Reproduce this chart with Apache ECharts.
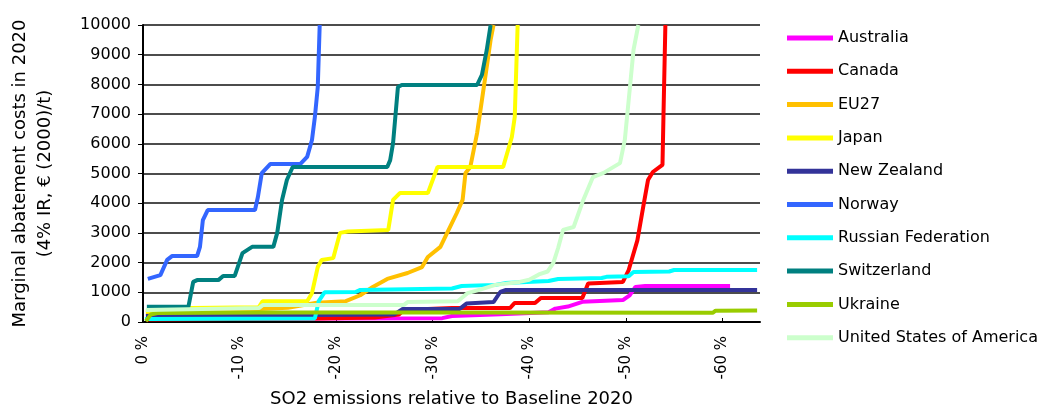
<!DOCTYPE html>
<html>
<head>
<meta charset="utf-8">
<script src="https://cdn.jsdelivr.net/npm/echarts@6/dist/echarts.min.js"></script>
<style>
html,body{margin:0;padding:0;background:#fff;}
#chart{width:1041px;height:407px;}
</style>
</head>
<body>
<div id="chart"></div>
<script>
// x = SO2 reduction relative to Baseline 2020 (%, shown as negative), y = marginal cost (€/t)
const seriesNames = ["Australia","Canada","EU27","Japan","New Zealand","Norway","Russian Federation","Switzerland","Ukraine","United States of America"];
const seriesColors = ["#FF00FF","#FF0000","#FFC000","#FFFF00","#333399","#3366FF","#00FFFF","#008080","#99CC00","#CCFFCC"];
const xTickValues = [0,10,20,30,40,50,60];
const yTickValues = [0,1000,2000,3000,4000,5000,6000,7000,8000,9000,10000];

const australia = [[0.3,100],[10,110],[20,120],[31,130],[32,200],[37,260],[42,330],[42.7,450],[44,520],[45.5,680],[49.7,740],[50.4,900],[51,1180],[52,1210],[60.8,1210]];
const canada = [[0.3,80],[18,120],[24,150],[26.5,250],[27,400],[32,470],[38,470],[38.5,640],[40.6,640],[41.2,810],[45.5,810],[46.1,1300],[49.7,1350],[50.3,1750],[51.2,2750],[51.8,3870],[52.3,4780],[52.8,5050],[53.8,5290],[53.9,6900],[54.1,10000]];
const eu27 = [[0.3,300],[8,380],[15,480],[18,650],[21,700],[22.5,900],[23.8,1180],[25.3,1450],[27.4,1650],[28.9,1850],[29.5,2190],[30.8,2530],[31.5,3000],[32.5,3670],[33.1,4110],[33.4,5020],[33.9,5220],[34.6,6360],[35.1,7470],[35.6,8590],[36,9500],[36.3,10000]];
const japan = [[0.3,350],[5,470],[12,500],[12.4,700],[17,700],[17.5,970],[18.1,1850],[18.5,2090],[19.7,2150],[20.4,3000],[21.2,3050],[25.4,3100],[25.9,4110],[26.6,4340],[29.5,4340],[30.5,5220],[37.3,5220],[38.2,6230],[38.5,6900],[38.8,10000]];
const newZealand = [[0.3,200],[26,250],[26.9,440],[32.8,440],[33.5,620],[36.3,670],[37,1010],[37.6,1080],[63.6,1080]];
const norway = [[0.5,1450],[1.8,1580],[2.5,2090],[3.0,2220],[5.6,2220],[5.9,2530],[6.2,3430],[6.7,3770],[11.6,3770],[11.9,4210],[12.3,5010],[13.2,5320],[16.3,5320],[17.0,5560],[17.5,6130],[17.8,6900],[18.1,7910],[18.3,10000]];
const russia = [[0.2,100],[17.8,120],[18.2,700],[18.8,1000],[22,1010],[22.5,1080],[32,1130],[33,1210],[36.5,1250],[37.5,1310],[42,1380],[43,1450],[47.5,1480],[48,1520],[50.3,1540],[50.8,1680],[54.5,1700],[55,1750],[63.6,1750]];
const switzerland = [[0.4,510],[4.7,510],[5.2,1350],[5.6,1410],[7.8,1410],[8.3,1550],[9.5,1550],[10.3,2320],[11.3,2530],[13.5,2530],[13.9,3000],[14.4,4110],[14.9,4780],[15.5,5220],[25.3,5220],[25.6,5450],[25.9,6030],[26.4,7910],[26.8,7980],[34.6,7980],[35.1,8320],[35.6,9160],[36.0,10000]];
const ukraine = [[0.3,30],[0.8,250],[1.5,300],[12,320],[30,320],[59,310],[59.3,380],[63.6,390]];
const usa = [[0.3,400],[12,470],[12.4,570],[27,570],[27.4,670],[32.6,700],[33.6,970],[35,1100],[36.5,1250],[39,1350],[40,1420],[41,1600],[41.9,1700],[42.5,1990],[43,2500],[43.5,3100],[44.6,3200],[45.6,4110],[46.6,4880],[47.7,5020],[49.4,5350],[49.9,6130],[50.3,7470],[50.8,9160],[51.3,10000]];

const allData = [australia,canada,eu27,japan,newZealand,norway,russia,switzerland,ukraine,usa];
const FONT = "DejaVu Sans, Liberation Sans, sans-serif";

const chart = echarts.init(document.getElementById('chart'), null, {renderer:'canvas'});
chart.setOption({
  animation:false,
  backgroundColor:'#fff',
  color: seriesColors,
  grid:{left:143,right:281,top:25,bottom:85,containLabel:false,outerBoundsMode:'none'},
  legend:{
    orient:'vertical', left:787, top:29, padding:0,
    icon:'rect', itemWidth:46, itemHeight:5, itemGap:15.3,
    textStyle:{fontFamily:FONT,fontSize:16,color:'#000',lineHeight:18},
    data: seriesNames
  },
  xAxis:{
    type:'value', min:0, max:63.9,
    name:'SO2 emissions relative to Baseline 2020',
    nameLocation:'middle', nameGap:68,
    nameTextStyle:{fontFamily:FONT,fontSize:18,color:'#000'},
    axisLine:{show:true,onZero:false,lineStyle:{color:'#000',width:2}},
    axisTick:{show:true,inside:true,length:4,customValues:xTickValues,lineStyle:{color:'#000'}},
    axisLabel:{rotate:90,margin:14,fontFamily:FONT,fontSize:15,color:'#000',customValues:xTickValues,
      formatter:function(v){return v===0?'0 %':'-'+v+' %';}},
    splitLine:{show:false}
  },
  yAxis:{
    type:'value', min:0, max:10000, interval:1000,
    name:'Marginal abatement costs in 2020\n(4% IR, € (2000)/t)',
    nameLocation:'middle', nameGap:85,
    nameTextStyle:{fontFamily:FONT,fontSize:18,color:'#000',lineHeight:25,align:'center'},
    axisLine:{show:true,lineStyle:{color:'#000',width:2}},
    axisTick:{show:true,length:5,lineStyle:{color:'#000'}},
    axisLabel:{margin:12,fontFamily:FONT,fontSize:16,color:'#000',formatter:function(v){return String(v);}},
    splitLine:{show:true,lineStyle:{color:'#111',width:1.5}}
  },
  series: seriesNames.map(function(n,i){
    return {
      name:n, type:'line', data:allData[i], showSymbol:false, symbol:'none',
      clip:true,
      lineStyle:{width:4,color:seriesColors[i]},
      itemStyle:{color:seriesColors[i]}
    };
  })
});
</script>
</body>
</html>
